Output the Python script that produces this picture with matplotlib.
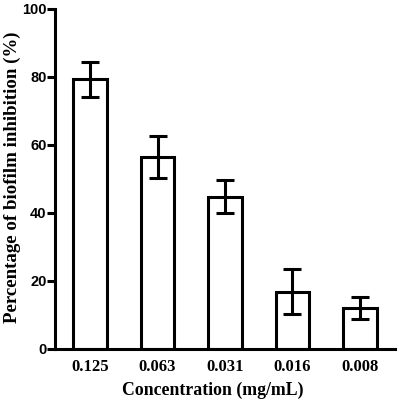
import matplotlib
matplotlib.use("Agg")
import matplotlib.pyplot as plt
import numpy as np

categories = ["0.125", "0.063", "0.031", "0.016", "0.008"]
values = [79.3, 56.5, 44.8, 16.9, 12.0]
errors = [5.1, 6.2, 4.8, 6.6, 3.2]
yticks = [0, 20, 40, 60, 80, 100]

fig = plt.figure(figsize=(4.0, 4.01), dpi=100)
ax = fig.add_axes([0.1375, 0.1297, 0.85, 0.8479])

x = np.arange(len(categories))
lw = 2.2
ax.bar(x, values, width=0.5, color="white", edgecolor="black", linewidth=lw, zorder=2)
ax.errorbar(x, values, yerr=errors, fmt="none", ecolor="black", elinewidth=lw,
            capsize=6.5, capthick=lw, zorder=3)

ax.set_xlim(-0.52, 4.52)
ax.set_ylim(0, 100)
ax.set_yticks(yticks)
ax.set_xticks(x)
ax.set_xticklabels(categories, family="Liberation Serif", fontweight="bold", fontsize=12)
for lab in ax.get_yticklabels():
    lab.set_family("Liberation Sans")
    lab.set_fontweight("bold")
    lab.set_fontsize(10.5)

for s in ["top", "right"]:
    ax.spines[s].set_visible(False)
for s in ["left", "bottom"]:
    ax.spines[s].set_linewidth(lw)
ax.tick_params(axis="y", width=lw, length=5.5, pad=0.5)
ax.tick_params(axis="x", length=0, pad=7)

ax.set_xlabel("Concentration (mg/mL)", family="Liberation Serif", fontweight="bold",
              fontsize=12.8)
ax.set_ylabel("Percentage of biofilm inhibition (%)", family="Liberation Serif",
              fontweight="bold", fontsize=13.6)
# label positions in axes coordinates
ax.xaxis.set_label_coords((212.5 - 55) / 340, -(395 - 349) / 340)
ax.yaxis.set_label_coords(-(55 - 12) / 340, (349 - 177.5) / 340)
ax.yaxis.label.set_va("center")
ax.xaxis.label.set_va("baseline")

fig.savefig("out.png", dpi=100)
